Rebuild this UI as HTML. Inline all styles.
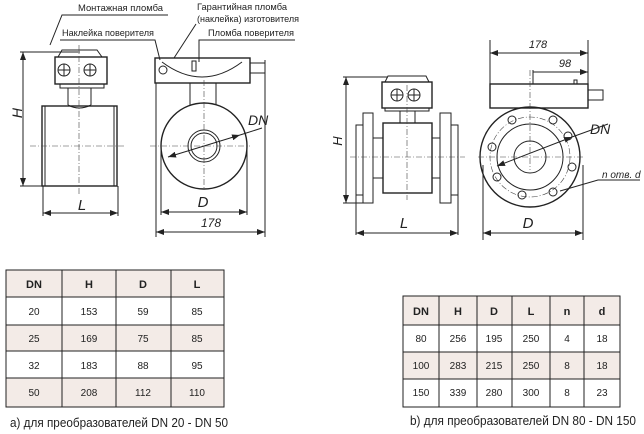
<!DOCTYPE html>
<html><head><meta charset="utf-8"><style>
html,body{margin:0;padding:0;background:#fff;}
svg{display:block;}
.l{stroke:#222;stroke-width:1;fill:none;}
.t{stroke:#222;stroke-width:1.4;fill:none;}
.c{stroke:#444;stroke-width:0.6;fill:none;stroke-dasharray:6,2,1,2;}
.lab{font-family:"Liberation Sans","Noto Sans CJK SC",sans-serif;font-size:9.5px;fill:#222;}
.dim{font-family:"Liberation Sans",sans-serif;font-style:italic;fill:#222;}
.tb{font-family:"Liberation Sans",sans-serif;font-size:10px;fill:#222;text-anchor:middle;}
.th{font-weight:bold;font-size:11px;}
.cap{font-family:"Liberation Sans","Noto Sans CJK SC",sans-serif;font-size:13px;fill:#222;}
</style></head><body>
<svg width="644" height="434" viewBox="0 0 644 434" xmlns="http://www.w3.org/2000/svg">
<defs><marker id="a" markerWidth="8" markerHeight="6" refX="8" refY="3" orient="auto-start-reverse"><path d="M0,0 L8,3 L0,6 z" fill="#222"/></marker></defs>

<!-- left side view -->
<rect class="t" x="55" y="57" width="52" height="27"/>
<circle class="l" cx="64" cy="70" r="6"/><circle class="l" cx="90" cy="70" r="6"/>
<path class="l" d="M58,70h12M64,64v12M84,70h12M90,64v12"/>
<path class="l" d="M58,57 L62,50 L97,50 L102,57 M60,84h44v4h-44z"/>
<path class="l" d="M68,88 v17 M91,88 v17 M68,105 q11,6 23,0"/>
<rect class="t" x="42" y="106" width="75" height="80"/>
<path class="l" d="M45,106v80M114,106v80"/>
<path class="c" d="M30,146h95 M79,45v150"/>
<path class="l" d="M20,52h60 M20,186h22 M43,186v30 M118,186v30"/>
<line class="l" x1="23" y1="52" x2="23" y2="186" marker-start="url(#a)" marker-end="url(#a)"/>
<line class="l" x1="43" y1="213" x2="118" y2="213" marker-start="url(#a)" marker-end="url(#a)"/>
<text class="dim" x="17" y="118" font-size="14" transform="rotate(-90 17 113)" text-anchor="middle">H</text>
<text class="dim" x="82" y="210" font-size="15" text-anchor="middle">L</text>

<!-- left front view -->
<rect class="t" x="155" y="58" width="95" height="25"/>
<path class="l" d="M162,62 q40,30 80,0 M250,63h15v10h-15 M265,60v177 M156,83v154"/>
<circle class="l" cx="163" cy="70" r="4"/>
<path class="l" d="M192,61v10h4v-10z"/>
<path class="l" d="M190,83v22 M216,83v22"/>
<circle class="t" cx="204" cy="146" r="43"/>
<circle class="l" cx="204" cy="146" r="16"/><circle class="l" cx="204" cy="146" r="13"/>
<path class="c" d="M150,146h100 M204,80v110"/>
<line class="l" x1="168" y1="157" x2="240" y2="135" marker-start="url(#a)" marker-end="url(#a)"/>
<path class="l" d="M240,135 L262,128"/>
<text class="dim" x="248" y="125" font-size="14">DN</text>
<path class="l" d="M161,150v65 M247,150v65"/>
<line class="l" x1="161" y1="212" x2="247" y2="212" marker-start="url(#a)" marker-end="url(#a)"/>
<text class="dim" x="203" y="207" font-size="15" text-anchor="middle">D</text>
<line class="l" x1="156" y1="232" x2="265" y2="232" marker-start="url(#a)" marker-end="url(#a)"/>
<text class="dim" x="211" y="227" font-size="12" text-anchor="middle">178</text>

<!-- labels -->
<text class="lab" x="78" y="11" textLength="85" lengthAdjust="spacingAndGlyphs">Монтажная пломба</text>
<path class="l" d="M168,15 H62 L50,45"/>
<text class="lab" x="62" y="36" textLength="92" lengthAdjust="spacingAndGlyphs">Наклейка поверителя</text>
<path class="l" d="M60,40 H155 L160,60"/>
<text class="lab" x="197" y="10" textLength="90" lengthAdjust="spacingAndGlyphs">Гарантийная пломба</text>
<text class="lab" x="197" y="22" textLength="102" lengthAdjust="spacingAndGlyphs">(наклейка) изготовителя</text>
<path class="l" d="M196,24 L174,58"/>
<text class="lab" x="208" y="36" textLength="86" lengthAdjust="spacingAndGlyphs">Пломба поверителя</text>
<path class="l" d="M295,40 H199 V62"/>

<!-- right side view -->
<rect class="t" x="382" y="82" width="50" height="26"/>
<circle class="l" cx="397" cy="95" r="6"/><circle class="l" cx="414" cy="95" r="6"/>
<path class="l" d="M391,95h12M397,89v12M408,95h12M414,89v12 M385,82 l3,-6 h38 l3,6 M385,108h44v3h-44z"/>
<path class="l" d="M400,111v12 M415,111v12"/>
<rect class="t" x="383" y="123" width="49" height="70"/>
<rect class="l" x="363" y="113" width="10" height="90"/>
<rect class="l" x="356" y="125" width="7" height="70"/>
<rect class="l" x="440" y="113" width="11" height="90"/>
<rect class="l" x="451" y="125" width="7" height="70"/>
<path class="l" d="M373,138h10M373,178h10M432,138h8M432,178h8"/>
<path class="c" d="M350,157h115 M407,85v115"/>
<path class="l" d="M343,77h45 M343,203h20 M356,195v40 M458,195v40"/>
<line class="l" x1="346" y1="77" x2="346" y2="203" marker-start="url(#a)" marker-end="url(#a)"/>
<text class="dim" x="338" y="145" font-size="13" transform="rotate(-90 338 141)" text-anchor="middle">H</text>
<line class="l" x1="356" y1="233" x2="458" y2="233" marker-start="url(#a)" marker-end="url(#a)"/>
<text class="dim" x="404" y="228" font-size="15" text-anchor="middle">L</text>

<!-- right front view -->
<rect class="t" x="490" y="84" width="98" height="24"/>
<path class="l" d="M588,90h15v10h-15 M574,84v-4h3v4"/>
<circle class="t" cx="530" cy="157" r="50"/>
<circle class="c" cx="530" cy="157" r="40"/>
<circle class="l" cx="530" cy="157" r="33"/>
<circle class="l" cx="530" cy="157" r="16"/>
<g class="l">
<circle cx="512" cy="120" r="4"/><circle cx="553" cy="120" r="4"/>
<circle cx="568" cy="136" r="4"/><circle cx="572" cy="167" r="4"/>
<circle cx="553" cy="192" r="4"/><circle cx="522" cy="195" r="4"/>
<circle cx="497" cy="177" r="4"/><circle cx="492" cy="147" r="4"/>
</g>
<path class="c" d="M478,157h105 M530,70v100"/>
<line class="l" x1="497" y1="166" x2="572" y2="137" marker-start="url(#a)" marker-end="url(#a)"/>
<path class="l" d="M572,137 L608,124"/>
<text class="dim" x="590" y="134" font-size="14">DN</text>
<path class="l" d="M560,191 L598,180 H640"/>
<text class="dim" x="602" y="178" font-size="10">n отв. d</text>
<path class="l" d="M490,40v68 M588,40v50 M483,165v75 M583,165v75 M533,70v14"/>
<line class="l" x1="490" y1="53" x2="588" y2="53" marker-start="url(#a)" marker-end="url(#a)"/>
<text class="dim" x="538" y="48" font-size="11" text-anchor="middle">178</text>
<line class="l" x1="533" y1="72" x2="588" y2="72" marker-end="url(#a)"/>
<text class="dim" x="565" y="67" font-size="11" text-anchor="middle">98</text>
<line class="l" x1="483" y1="233" x2="583" y2="233" marker-start="url(#a)" marker-end="url(#a)"/>
<text class="dim" x="528" y="228" font-size="15" text-anchor="middle">D</text>

<!-- left table -->
<g>
<rect x="6" y="270" width="218" height="27" fill="#f3ebe7"/>
<rect x="6" y="325" width="218" height="26" fill="#f3ebe7"/>
<rect x="6" y="378" width="218" height="29" fill="#f3ebe7"/>
<g stroke="#222" stroke-width="1" fill="none">
<rect x="6" y="270" width="218" height="137"/>
<path d="M6,297h218M6,325h218M6,351h218M6,378h218M62,270v137M116,270v137M171,270v137"/>
</g>
<text class="tb th" x="34" y="288">DN</text><text class="tb th" x="89" y="288">H</text><text class="tb th" x="143" y="288">D</text><text class="tb th" x="197" y="288">L</text>
<text class="tb" x="34" y="315">20</text><text class="tb" x="89" y="315">153</text><text class="tb" x="143" y="315">59</text><text class="tb" x="197" y="315">85</text>
<text class="tb" x="34" y="342">25</text><text class="tb" x="89" y="342">169</text><text class="tb" x="143" y="342">75</text><text class="tb" x="197" y="342">85</text>
<text class="tb" x="34" y="369">32</text><text class="tb" x="89" y="369">183</text><text class="tb" x="143" y="369">88</text><text class="tb" x="197" y="369">95</text>
<text class="tb" x="34" y="396">50</text><text class="tb" x="89" y="396">208</text><text class="tb" x="143" y="396">112</text><text class="tb" x="197" y="396">110</text>
</g>
<text class="cap" x="10" y="427" textLength="218" lengthAdjust="spacingAndGlyphs">а) для преобразователей DN 20 - DN 50</text>

<!-- right table -->
<g>
<rect x="403" y="296" width="217" height="29" fill="#f3ebe7"/>
<rect x="403" y="352" width="217" height="27" fill="#f3ebe7"/>
<g stroke="#222" stroke-width="1" fill="none">
<rect x="403" y="296" width="217" height="111"/>
<path d="M403,325h217M403,352h217M403,379h217M439,296v111M477,296v111M512,296v111M550,296v111M584,296v111"/>
</g>
<text class="tb th" x="421" y="315">DN</text><text class="tb th" x="458" y="315">H</text><text class="tb th" x="494" y="315">D</text><text class="tb th" x="531" y="315">L</text><text class="tb th" x="567" y="315">n</text><text class="tb th" x="602" y="315">d</text>
<text class="tb" x="421" y="342">80</text><text class="tb" x="458" y="342">256</text><text class="tb" x="494" y="342">195</text><text class="tb" x="531" y="342">250</text><text class="tb" x="567" y="342">4</text><text class="tb" x="602" y="342">18</text>
<text class="tb" x="421" y="369">100</text><text class="tb" x="458" y="369">283</text><text class="tb" x="494" y="369">215</text><text class="tb" x="531" y="369">250</text><text class="tb" x="567" y="369">8</text><text class="tb" x="602" y="369">18</text>
<text class="tb" x="421" y="396">150</text><text class="tb" x="458" y="396">339</text><text class="tb" x="494" y="396">280</text><text class="tb" x="531" y="396">300</text><text class="tb" x="567" y="396">8</text><text class="tb" x="602" y="396">23</text>
</g>
<text class="cap" x="410" y="425" textLength="226" lengthAdjust="spacingAndGlyphs">b) для преобразователей DN 80 - DN 150</text>
</svg>
</body></html>
